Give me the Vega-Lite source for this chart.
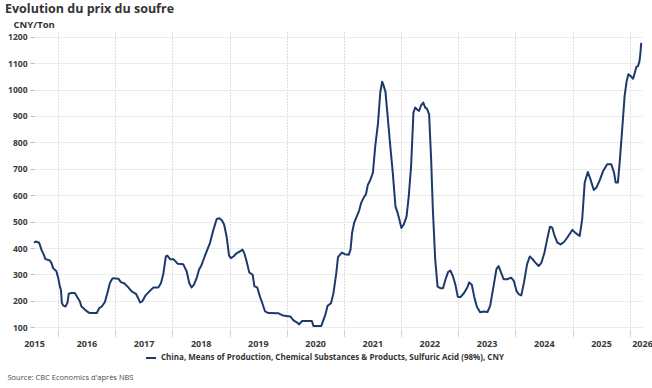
{
  "$schema": "https://vega.github.io/schema/vega-lite/v6.json",
  "width": 608,
  "height": 299,
  "autosize": {"type": "none"},
  "padding": {"left": 34, "top": 32, "right": 10, "bottom": 57},
  "title": {"text": "Evolution du prix du soufre", "anchor": "start", "frame": "group", "dx": -29, "offset": 4, "fontSize": 12.5, "fontWeight": "bold", "color": "#333333", "font": "Open Sans"},
  "data": {"values": [
    {"date": "2015-08-01", "value": 420}, {"date": "2015-08-12", "value": 425}, {"date": "2015-09-03", "value": 420}, {"date": "2015-09-18", "value": 393},
    {"date": "2015-10-03", "value": 374}, {"date": "2015-10-13", "value": 358}, {"date": "2015-11-10", "value": 353}, {"date": "2015-11-21", "value": 343},
    {"date": "2015-12-01", "value": 324}, {"date": "2015-12-22", "value": 312}, {"date": "2016-01-03", "value": 286}, {"date": "2016-01-13", "value": 255},
    {"date": "2016-01-20", "value": 242}, {"date": "2016-01-26", "value": 192}, {"date": "2016-02-04", "value": 182}, {"date": "2016-02-19", "value": 179},
    {"date": "2016-03-02", "value": 194}, {"date": "2016-03-10", "value": 227}, {"date": "2016-03-27", "value": 230}, {"date": "2016-04-18", "value": 230},
    {"date": "2016-05-03", "value": 215}, {"date": "2016-05-20", "value": 198}, {"date": "2016-05-30", "value": 179}, {"date": "2016-06-21", "value": 167},
    {"date": "2016-07-12", "value": 157}, {"date": "2016-07-23", "value": 154}, {"date": "2016-09-05", "value": 154}, {"date": "2016-09-21", "value": 173},
    {"date": "2016-10-06", "value": 178}, {"date": "2016-10-27", "value": 196}, {"date": "2016-11-11", "value": 228}, {"date": "2016-11-28", "value": 268},
    {"date": "2016-12-13", "value": 284}, {"date": "2016-12-20", "value": 286}, {"date": "2017-01-21", "value": 284}, {"date": "2017-02-06", "value": 271},
    {"date": "2017-02-27", "value": 267}, {"date": "2017-03-24", "value": 252}, {"date": "2017-04-16", "value": 236}, {"date": "2017-05-13", "value": 227},
    {"date": "2017-05-27", "value": 211}, {"date": "2017-06-08", "value": 194}, {"date": "2017-06-22", "value": 198}, {"date": "2017-07-14", "value": 221},
    {"date": "2017-08-07", "value": 236}, {"date": "2017-09-02", "value": 251}, {"date": "2017-10-03", "value": 251}, {"date": "2017-10-20", "value": 267},
    {"date": "2017-11-05", "value": 305}, {"date": "2017-11-20", "value": 368}, {"date": "2017-11-30", "value": 371}, {"date": "2017-12-17", "value": 358},
    {"date": "2018-01-08", "value": 358}, {"date": "2018-02-03", "value": 341}, {"date": "2018-03-11", "value": 339}, {"date": "2018-04-02", "value": 312},
    {"date": "2018-04-19", "value": 267}, {"date": "2018-05-04", "value": 251}, {"date": "2018-05-18", "value": 261}, {"date": "2018-06-05", "value": 286},
    {"date": "2018-06-20", "value": 318}, {"date": "2018-07-07", "value": 337}, {"date": "2018-07-28", "value": 371}, {"date": "2018-08-29", "value": 419},
    {"date": "2018-09-20", "value": 469}, {"date": "2018-10-11", "value": 510}, {"date": "2018-10-28", "value": 513}, {"date": "2018-11-13", "value": 505},
    {"date": "2018-11-28", "value": 488}, {"date": "2018-12-14", "value": 441}, {"date": "2018-12-29", "value": 371}, {"date": "2019-01-10", "value": 362},
    {"date": "2019-01-26", "value": 368}, {"date": "2019-02-17", "value": 381}, {"date": "2019-03-08", "value": 387}, {"date": "2019-03-25", "value": 394},
    {"date": "2019-04-05", "value": 381}, {"date": "2019-04-20", "value": 350}, {"date": "2019-05-07", "value": 308}, {"date": "2019-05-29", "value": 299},
    {"date": "2019-06-09", "value": 255}, {"date": "2019-06-27", "value": 251}, {"date": "2019-07-14", "value": 217}, {"date": "2019-07-29", "value": 192},
    {"date": "2019-08-16", "value": 160}, {"date": "2019-09-07", "value": 154}, {"date": "2019-11-10", "value": 153}, {"date": "2019-12-07", "value": 145},
    {"date": "2020-01-24", "value": 141}, {"date": "2020-02-14", "value": 126}, {"date": "2020-03-08", "value": 118}, {"date": "2020-03-20", "value": 111},
    {"date": "2020-04-09", "value": 124}, {"date": "2020-06-10", "value": 124}, {"date": "2020-06-20", "value": 105}, {"date": "2020-08-09", "value": 105},
    {"date": "2020-08-23", "value": 128}, {"date": "2020-09-04", "value": 147}, {"date": "2020-09-18", "value": 181}, {"date": "2020-10-10", "value": 191},
    {"date": "2020-10-26", "value": 229}, {"date": "2020-11-13", "value": 305}, {"date": "2020-11-24", "value": 366}, {"date": "2020-12-19", "value": 383},
    {"date": "2021-01-06", "value": 377}, {"date": "2021-02-01", "value": 375}, {"date": "2021-02-12", "value": 394}, {"date": "2021-02-22", "value": 457},
    {"date": "2021-03-07", "value": 495}, {"date": "2021-03-24", "value": 520}, {"date": "2021-04-08", "value": 542}, {"date": "2021-04-21", "value": 571},
    {"date": "2021-05-10", "value": 594}, {"date": "2021-05-21", "value": 602}, {"date": "2021-06-03", "value": 640}, {"date": "2021-06-18", "value": 657},
    {"date": "2021-07-05", "value": 685}, {"date": "2021-07-20", "value": 786}, {"date": "2021-08-07", "value": 875}, {"date": "2021-08-21", "value": 989},
    {"date": "2021-09-02", "value": 1030}, {"date": "2021-09-12", "value": 1014}, {"date": "2021-09-23", "value": 992}, {"date": "2021-10-07", "value": 900},
    {"date": "2021-10-24", "value": 786}, {"date": "2021-11-09", "value": 685}, {"date": "2021-11-26", "value": 558}, {"date": "2021-12-10", "value": 533},
    {"date": "2021-12-21", "value": 508}, {"date": "2022-01-03", "value": 476}, {"date": "2022-01-18", "value": 489}, {"date": "2022-02-05", "value": 520},
    {"date": "2022-02-19", "value": 596}, {"date": "2022-03-06", "value": 710}, {"date": "2022-03-21", "value": 913}, {"date": "2022-04-01", "value": 932},
    {"date": "2022-04-12", "value": 925}, {"date": "2022-04-26", "value": 919}, {"date": "2022-05-07", "value": 938}, {"date": "2022-05-23", "value": 951},
    {"date": "2022-06-04", "value": 932}, {"date": "2022-06-15", "value": 928}, {"date": "2022-06-29", "value": 906}, {"date": "2022-07-12", "value": 735},
    {"date": "2022-07-23", "value": 545}, {"date": "2022-08-07", "value": 356}, {"date": "2022-08-22", "value": 254}, {"date": "2022-09-09", "value": 248},
    {"date": "2022-09-26", "value": 248}, {"date": "2022-10-11", "value": 280}, {"date": "2022-10-28", "value": 309}, {"date": "2022-11-12", "value": 315},
    {"date": "2022-11-27", "value": 295}, {"date": "2022-12-14", "value": 261}, {"date": "2022-12-29", "value": 216}, {"date": "2023-01-15", "value": 214},
    {"date": "2023-02-06", "value": 229}, {"date": "2023-02-28", "value": 251}, {"date": "2023-03-12", "value": 270}, {"date": "2023-03-29", "value": 261},
    {"date": "2023-04-13", "value": 216}, {"date": "2023-04-30", "value": 178}, {"date": "2023-05-21", "value": 157}, {"date": "2023-06-12", "value": 160},
    {"date": "2023-07-07", "value": 158}, {"date": "2023-07-24", "value": 181}, {"date": "2023-08-15", "value": 257}, {"date": "2023-09-02", "value": 320},
    {"date": "2023-09-16", "value": 332}, {"date": "2023-10-02", "value": 307}, {"date": "2023-10-18", "value": 282}, {"date": "2023-11-10", "value": 282},
    {"date": "2023-12-05", "value": 288}, {"date": "2023-12-22", "value": 276}, {"date": "2024-01-08", "value": 238}, {"date": "2024-01-23", "value": 225},
    {"date": "2024-02-08", "value": 221}, {"date": "2024-02-25", "value": 269}, {"date": "2024-03-16", "value": 339}, {"date": "2024-04-02", "value": 368},
    {"date": "2024-04-17", "value": 360}, {"date": "2024-05-08", "value": 345}, {"date": "2024-05-29", "value": 332}, {"date": "2024-06-16", "value": 345},
    {"date": "2024-07-05", "value": 383}, {"date": "2024-07-22", "value": 433}, {"date": "2024-08-09", "value": 481}, {"date": "2024-08-24", "value": 477},
    {"date": "2024-09-08", "value": 446}, {"date": "2024-09-25", "value": 421}, {"date": "2024-10-16", "value": 414}, {"date": "2024-11-07", "value": 423},
    {"date": "2024-11-28", "value": 440}, {"date": "2024-12-19", "value": 459}, {"date": "2024-12-30", "value": 469}, {"date": "2025-01-16", "value": 459},
    {"date": "2025-02-01", "value": 452}, {"date": "2025-02-15", "value": 446}, {"date": "2025-03-03", "value": 509}, {"date": "2025-03-19", "value": 648},
    {"date": "2025-04-08", "value": 688}, {"date": "2025-04-25", "value": 660}, {"date": "2025-05-16", "value": 620}, {"date": "2025-06-02", "value": 629},
    {"date": "2025-06-24", "value": 658}, {"date": "2025-07-15", "value": 692}, {"date": "2025-08-10", "value": 717}, {"date": "2025-09-05", "value": 717},
    {"date": "2025-09-22", "value": 686}, {"date": "2025-10-03", "value": 648}, {"date": "2025-10-17", "value": 648}, {"date": "2025-10-30", "value": 736},
    {"date": "2025-11-15", "value": 862}, {"date": "2025-11-29", "value": 976}, {"date": "2025-12-12", "value": 1032}, {"date": "2025-12-23", "value": 1058},
    {"date": "2026-01-07", "value": 1051}, {"date": "2026-01-22", "value": 1041}, {"date": "2026-02-02", "value": 1064}, {"date": "2026-02-13", "value": 1087},
    {"date": "2026-02-23", "value": 1089}, {"date": "2026-03-04", "value": 1108}, {"date": "2026-03-10", "value": 1139}, {"date": "2026-03-15", "value": 1177}
  ]},
  "mark": {"type": "line", "strokeWidth": 2, "strokeJoin": "round"},
  "encoding": {
    "x": {
      "field": "date", "type": "temporal",
      "scale": {"nice": false, "domain": [{"year": 2015, "month": 8, "date": 1, "utc": true}, {"year": 2026, "month": 3, "date": 20, "utc": true}]},
      "axis": {
        "values": [
          {"year": 2015, "month": 8, "date": 1, "utc": true},
          {"year": 2016, "month": 1, "date": 1, "utc": true}, {"year": 2016, "month": 7, "date": 1, "utc": true},
          {"year": 2017, "month": 1, "date": 1, "utc": true}, {"year": 2017, "month": 7, "date": 1, "utc": true},
          {"year": 2018, "month": 1, "date": 1, "utc": true}, {"year": 2018, "month": 7, "date": 1, "utc": true},
          {"year": 2019, "month": 1, "date": 1, "utc": true}, {"year": 2019, "month": 7, "date": 1, "utc": true},
          {"year": 2020, "month": 1, "date": 1, "utc": true}, {"year": 2020, "month": 7, "date": 1, "utc": true},
          {"year": 2021, "month": 1, "date": 1, "utc": true}, {"year": 2021, "month": 7, "date": 1, "utc": true},
          {"year": 2022, "month": 1, "date": 1, "utc": true}, {"year": 2022, "month": 7, "date": 1, "utc": true},
          {"year": 2023, "month": 1, "date": 1, "utc": true}, {"year": 2023, "month": 7, "date": 1, "utc": true},
          {"year": 2024, "month": 1, "date": 1, "utc": true}, {"year": 2024, "month": 7, "date": 1, "utc": true},
          {"year": 2025, "month": 1, "date": 1, "utc": true}, {"year": 2025, "month": 7, "date": 1, "utc": true},
          {"year": 2026, "month": 1, "date": 1, "utc": true}, {"year": 2026, "month": 3, "date": 20, "utc": true}
        ],
        "labelExpr": "(utcmonth(datum.value) == 0 && utcdate(datum.value) == 1) ? '' : utcFormat(datum.value, '%Y')",
        "labelOverlap": false,
        "labelFlush": false,
        "labelBound": false,
        "domain": false,
        "grid": true,
        "gridColor": "#bdbdbd",
        "gridDash": [1, 2],
        "gridWidth": 1,
        "gridOpacity": {"condition": {"test": "utcmonth(datum.value) == 0 && utcdate(datum.value) == 1", "value": 1}, "value": 0},
        "ticks": true,
        "tickColor": "#a8a8a8",
        "tickDash": [1, 1],
        "tickSize": 5,
        "tickOpacity": {"condition": {"test": "utcmonth(datum.value) == 0 && utcdate(datum.value) == 1", "value": 1}, "value": 0},
        "labelPadding": 3,
        "labelFont": "Open Sans",
        "labelFontSize": 9,
        "labelFontWeight": "bold",
        "labelColor": "#3a3a3a",
        "title": "Source: CBC Economics d'après NBS",
        "titleX": -27,
        "titleY": 48,
        "titleAlign": "left",
        "titleBaseline": "alphabetic",
        "titleFont": "Open Sans",
        "titleFontSize": 7.5,
        "titleFontWeight": "normal",
        "titleColor": "#4a4a4a"
      }
    },
    "y": {
      "field": "value", "type": "quantitative",
      "scale": {"domain": [86, 1218], "nice": false, "zero": false},
      "axis": {
        "values": [100, 200, 300, 400, 500, 600, 700, 800, 900, 1000, 1100, 1200],
        "format": "d",
        "domain": false,
        "grid": true,
        "gridColor": "#ebebeb",
        "gridWidth": 1,
        "tickColor": "#bdbdbd",
        "tickSize": 4,
        "labelPadding": 3,
        "labelFont": "Open Sans",
        "labelFontSize": 8.5,
        "labelFontWeight": "bold",
        "labelColor": "#3a3a3a",
        "title": "CNY/Ton",
        "titleAngle": 0,
        "titleAlign": "left",
        "titleBaseline": "alphabetic",
        "titleX": -21,
        "titleY": -5,
        "titleFont": "Open Sans",
        "titleFontSize": 9.5,
        "titleFontWeight": "bold",
        "titleColor": "#333333"
      }
    },
    "color": {
      "datum": "China, Means of Production, Chemical Substances & Products, Sulfuric Acid (98%), CNY",
      "type": "nominal",
      "scale": {"range": ["#1d3a6b"]},
      "legend": {
        "title": null,
        "orient": "none",
        "legendX": 111,
        "legendY": 320,
        "symbolType": "stroke",
        "symbolStrokeWidth": 2,
        "symbolSize": 100,
        "labelOffset": 4,
        "labelFont": "Open Sans",
        "labelFontSize": 8,
        "labelFontWeight": "bold",
        "labelColor": "#333333",
        "labelLimit": 0
      }
    }
  },
  "config": {"font": "Open Sans", "view": {"stroke": null}}
}
